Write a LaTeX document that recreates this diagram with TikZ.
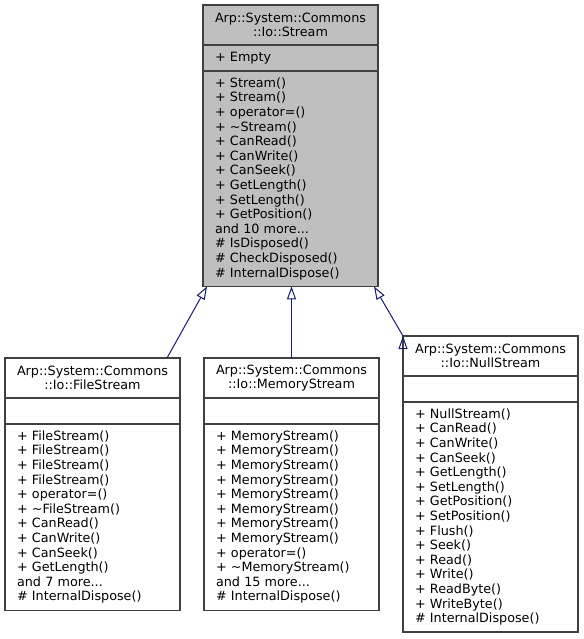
\documentclass[tikz,border=0pt]{standalone}
\usepackage{fontspec}
\setmainfont{DejaVu Sans}
\usetikzlibrary{positioning,arrows.meta}
\definecolor{boxline}{HTML}{404040}
\definecolor{boxgray}{HTML}{BFBFBF}
\definecolor{edgeblue}{HTML}{191970}
\newcommand\classfont{\fontsize{12.76pt}{14.6pt}\selectfont}

\begin{document}
\begin{tikzpicture}[x=1pt, y=1pt, node distance=0pt,
    class box/.style={draw=boxline, fill=white, line width=1.2pt, text width=151pt,
      inner xsep=12pt, inner ysep=0pt, outer sep=0pt, font=\classfont},
    class title/.style={class box, align=center, minimum height=40pt},
    class attr/.style={class box, align=left, minimum height=26pt},
    class ops/.style={class box, align=left, minimum height=#1},
    inherit/.style={draw=edgeblue, line width=1pt, -{Triangle[open, length=13pt, width=9pt]}}]
  \fill[white] (0,0) rectangle (583,-639);
  \useasboundingbox (0,0) rectangle (583,-639);

  % base class
  \node[class title, fill=boxgray, anchor=north] (streamT) at (290.5,-5) {Arp::System::Commons\\::Io::Stream};
  \node[class attr, fill=boxgray, below=of streamT] (streamA) {+ Empty};
  \node[class ops=215.4pt, fill=boxgray, below=of streamA] (streamM) {+ Stream()\\+ Stream()\\+ operator=()\\+ \textasciitilde Stream()\\+ CanRead()\\+ CanWrite()\\+ CanSeek()\\+ GetLength()\\+ SetLength()\\+ GetPosition()\\and 10 more...\\\# IsDisposed()\\\# CheckDisposed()\\\# InternalDispose()};

  % derived classes
  \node[class title, anchor=north] (fileT) at (92.5,-358) {Arp::System::Commons\\::Io::FileStream};
  \node[class attr, below=of fileT] (fileA) {};
  \node[class ops=186.2pt, below=of fileA] (fileM) {+ FileStream()\\+ FileStream()\\+ FileStream()\\+ FileStream()\\+ operator=()\\+ \textasciitilde FileStream()\\+ CanRead()\\+ CanWrite()\\+ CanSeek()\\+ GetLength()\\and 7 more...\\\# InternalDispose()};

  \node[class title, anchor=north] (memT) at (291.5,-358) {Arp::System::Commons\\::Io::MemoryStream};
  \node[class attr, below=of memT] (memA) {};
  \node[class ops=186.2pt, below=of memA] (memM) {+ MemoryStream()\\+ MemoryStream()\\+ MemoryStream()\\+ MemoryStream()\\+ MemoryStream()\\+ MemoryStream()\\+ MemoryStream()\\+ MemoryStream()\\+ operator=()\\+ \textasciitilde MemoryStream()\\and 15 more...\\\# InternalDispose()};

  \node[class title, anchor=north] (nullT) at (490.5,-336) {Arp::System::Commons\\::Io::NullStream};
  \node[class attr, below=of nullT] (nullA) {};
  \node[class ops=230pt, below=of nullA] (nullM) {+ NullStream()\\+ CanRead()\\+ CanWrite()\\+ CanSeek()\\+ GetLength()\\+ SetLength()\\+ GetPosition()\\+ SetPosition()\\+ Flush()\\+ Seek()\\+ Read()\\+ Write()\\+ ReadByte()\\+ WriteByte()\\\# InternalDispose()};

  % inheritance
  \path[inherit]
    ([xshift=-13pt]fileT.north east) edge ([xshift=4pt]streamM.south west)
    (memT.north) edge (memT.north |- streamM.south)
    (nullT.north west) edge ([xshift=-4pt]streamM.south east);
\end{tikzpicture}
\end{document}
